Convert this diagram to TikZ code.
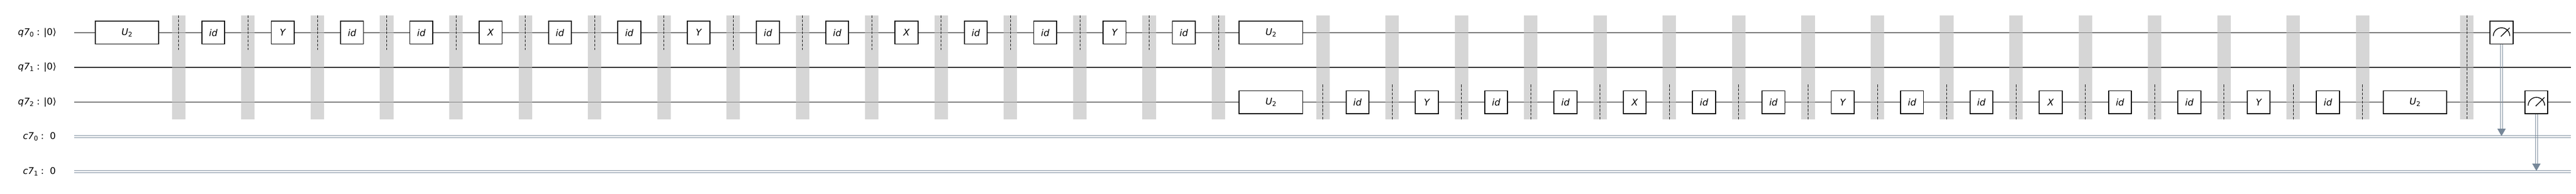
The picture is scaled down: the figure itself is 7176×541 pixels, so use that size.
\documentclass[tikz,border=0pt]{standalone}
\usepackage{fontspec}
\setmainfont{DejaVu Sans}
\usetikzlibrary{calc}
\definecolor{cwire}{HTML}{778899}
\definecolor{bargray}{RGB}{189,189,189}
\newcommand\qsubs[1]{\raisebox{-1.3pt}{\fontsize{5.1}{5.1}\selectfont\upshape #1}}
\begin{document}
\begin{tikzpicture}[x=0.01cm,y=-0.01cm,
  qwire/.style={line width=0.45pt, black},
  cline/.style={line width=0.42pt, cwire},
  gatebox/.style={draw=black, line width=0.75pt, fill=white, minimum width=0.638cm, minimum height=0.635cm, inner sep=0pt, font=\fontsize{7.3}{8}\selectfont\itshape},
  widebox/.style={gatebox, minimum width=1.77cm},
  barfill/.style={fill=bargray, fill opacity=0.62},
  bardash/.style={line width=0.36pt, dash pattern=on 2.1pt off 1.1pt},
  reglabel/.style={anchor=east, inner sep=0pt, font=\fontsize{7.3}{8}\selectfont},
  meter/.style={line width=0.6pt}
]
\useasboundingbox (0,0) rectangle (7176,541);

% register labels
\node[reglabel] (lq0) at (157.6,91) {{\itshape q7}\qsubs{0} : |0⟩};
\node[reglabel] (lq1) at (157.6,188) {{\itshape q7}\qsubs{1} : |0⟩};
\node[reglabel] (lq2) at (157.6,285) {{\itshape q7}\qsubs{2} : |0⟩};
\node[reglabel] (lc0) at (156,381.1) {{\itshape c7}\qsubs{0} :\ \ 0};
\node[reglabel] (lc1) at (156,478.3) {{\itshape c7}\qsubs{1} :\ \ 0};

% quantum wires
\foreach \n/\y in {0/91,1/188,2/285} {
  \coordinate (qs\n) at (207,\y);
  \coordinate (qe\n) at (7161,\y);
  \draw[qwire] (qs\n) -- (qe\n);
}
% classical wires
\foreach \n/\y in {0/381.1,1/478.3} {
  \coordinate (cs\n) at (207,\y);
  \coordinate (ce\n) at (7161,\y);
  \draw[cline] ([yshift=0.0295cm]cs\n) -- ([yshift=0.0295cm]ce\n);
  \draw[cline] ([yshift=-0.0295cm]cs\n) -- ([yshift=-0.0295cm]ce\n);
}

% barriers, first section (dashes on q7_0)
\foreach \k in {1,...,16} {
  \pgfmathsetmacro\bx{497.8+(\k-1)*193.1}
  \fill[barfill] ({\bx-18.75},43) rectangle ({\bx+18.75},333);
  \draw[bardash] (\bx,43) -- (\bx,138.7);
}
% barriers, second section (dashes on q7_2)
\foreach \k in {0,...,15} {
  \pgfmathsetmacro\bx{3685+\k*193.1}
  \fill[barfill] ({\bx-18.75},43) rectangle ({\bx+18.75},333);
  \draw[bardash] (\bx,236) -- (\bx,333);
}
% final barrier
\fill[barfill] (6853,43) rectangle (6890.4,333);
\draw[bardash] (6871.7,43) -- (6871.7,333);

% gates
\node[widebox] (u2a) at (353.6,91) {U\qsubs{2}};
\foreach \g [count=\k] in {id,Y,id,id,X,id,id,Y,id,id,X,id,id,Y,id} {
  \node[gatebox] (ga\k) at ({497.8+(\k-1)*193.1+96.55},91) {\g};
}
\node[widebox] (u2b) at (3540.4,91) {U\qsubs{2}};
\node[widebox] (u2c) at (3540.4,285) {U\qsubs{2}};
\foreach \g [count=\k] in {id,Y,id,id,X,id,id,Y,id,id,X,id,id,Y,id} {
  \node[gatebox] (gb\k) at ({3685+(\k-1)*193.1+96.55},285) {\g};
}
\node[widebox] (u2d) at (6727.4,285) {U\qsubs{2}};

% measurements
\node[gatebox] (m0) at (6968.5,91) {};
\node[gatebox] (m2) at (7065.6,285) {};
\foreach \m in {m0,m2} {
  \draw[meter] ($(\m)+(-23,9.5)$) arc[start angle=180,end angle=0,radius=0.23cm];
  \draw[meter] ($(\m)+(-2,11)$) -- ($(\m)+(22.5,-13.3)$);
}
\coordinate (t0) at (6968.5,379.5);
\coordinate (t1) at (7065.6,476.7);
\foreach \m/\t in {m0/t0,m2/t1} {
  \draw[cline] ([xshift=-0.0275cm]\m.south) -- ([xshift=-0.0275cm,yshift=0.2cm]\t);
  \draw[cline] ([xshift=0.0275cm]\m.south) -- ([xshift=0.0275cm,yshift=0.2cm]\t);
  \fill[cwire] (\t) -- ([xshift=-0.117cm,yshift=0.205cm]\t) -- ([xshift=0.117cm,yshift=0.205cm]\t) -- cycle;
}
\end{tikzpicture}
\end{document}
